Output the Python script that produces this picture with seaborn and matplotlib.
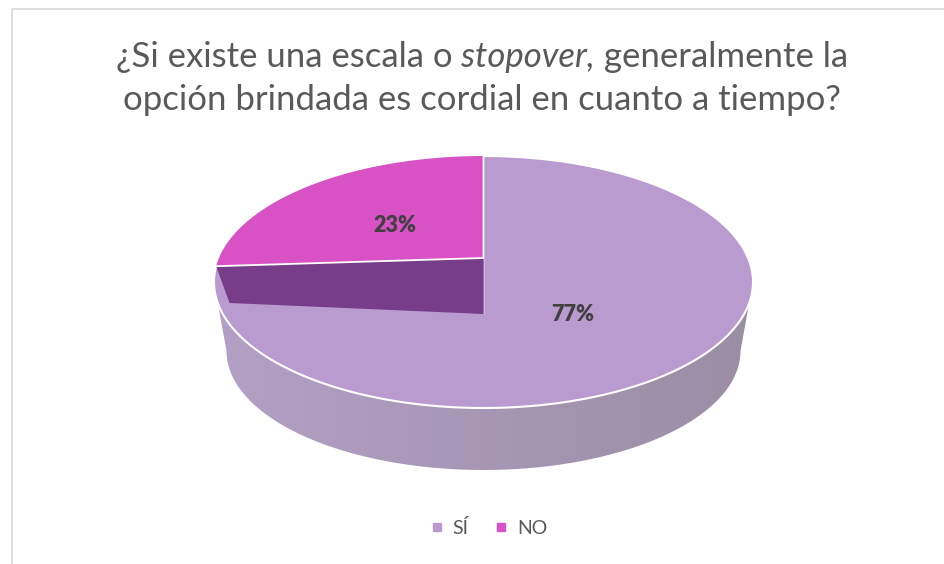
import numpy as np
import matplotlib
matplotlib.use("Agg")
import matplotlib.pyplot as plt
from matplotlib.patches import Polygon, Rectangle
from matplotlib.lines import Line2D
import seaborn as sns

# data
labels = ["SÍ", "NO"]
shares = [77, 23]
colors = ["#b99bcf", "#d852c6"]
cut_color = "#783d89"
title_lines = [
    [("¿Si existe una escala o", "normal"), (" stopover,", "italic"), (" generalmente la", "normal")],
    [("opción brindada es cordial en cuanto a tiempo?", "normal")],
]

sns.set_style("white")
plt.rcParams["font.family"] = ["Lato", "DejaVu Sans"]

W, H = 945, 564
fig = plt.figure(figsize=(W / 100, H / 100), dpi=100)
ax = fig.add_axes([0, 0, 1, 1])
ax.set_xlim(0, W)
ax.set_ylim(H, 0)
ax.axis("off")

# chart frame
ax.add_patch(Rectangle((12, 9), W, H, fill=False, ec="#d9d9d9", lw=1.2))

# pie geometry (pixel space)
cx, cy, a, b = 483.5, 282, 269.5, 126
cy_bot, a_bot, b_bot = 351, 257, 119
lift, drop = 24, 32


def rim(theta, r=1.0, rx=a, ry=b, y0=cy):
    t = np.radians(theta)
    return np.column_stack([cx + rx * r * np.cos(t), y0 - ry * r * np.sin(t)])


# slice boundaries, clockwise from 12 o'clock
total = sum(shares)
bounds = []
start = 90.0
for v in shares:
    end = start - 360 * v / total
    bounds.append((start, end))
    start = end

# side wall with a left-to-right shade
front = np.linspace(180, 360, 120)
wall_pts = np.vstack([rim(front), rim(front[::-1], rx=a_bot, ry=b_bot, y0=cy_bot)])
wall = Polygon(wall_pts, closed=True, fc="none", ec="none")
ax.add_patch(wall)
grad = np.linspace(0, 1, 256)[None, :]
cmap = matplotlib.colors.LinearSegmentedColormap.from_list("wall", ["#b3a0c6", "#9a8ea4"])
img = ax.imshow(grad, cmap=cmap, extent=(cx - a, cx + a, cy_bot + b_bot, cy),
                aspect="auto", zorder=1)
img.set_clip_path(wall)
ax.set_xlim(0, W)
ax.set_ylim(H, 0)

# top face of the big slice
full = np.linspace(0, 360, 361)
ax.fill(*rim(full).T, color=colors[0], ec="white", lw=1.5, zorder=2)

# small slice, lifted, and its cut face
t_end, t_start = bounds[1]
arc = np.linspace(t_start % 360, t_end % 360 + 360 * (t_end % 360 < t_start % 360), 80)
apex_no = np.array([[cx, cy - lift]])
apex_si = np.array([[cx, cy + drop]])
corner = rim(arc[-1:])
corner_low = rim(arc[-1:], r=0.95) + np.array([[0, drop + 4]])
ax.fill(*np.vstack([apex_no, rim(arc)]).T, color=colors[1], ec="none", zorder=3)
ax.fill(*np.vstack([apex_no, corner, corner_low, apex_si]).T, color=cut_color, ec="none", zorder=3)
ax.plot(*np.vstack([rim(arc[:1]), apex_no, corner]).T, color="white", lw=1.3, zorder=4)
ax.plot(*np.vstack([apex_no, apex_si]).T, color="#cdb8dc", lw=0.8, zorder=4)

# percentage labels
for (t0, t1), v in zip(bounds, shares):
    mid = (t0 + t1) / 2
    x, y = rim([mid], rx=a * 0.5, ry=b * 0.34)[0]
    if v == shares[1]:
        y -= lift
    ax.text(x, y, f"{v / total:.0%}", ha="center", va="center", fontsize=15.5,
            fontweight="heavy", color="#404040", zorder=5)

# title with an italic word
renderer = fig.canvas.get_renderer()
for row, y in zip(title_lines, [57, 100]):
    texts = [ax.text(0, y, s, fontstyle=st, fontsize=25, fontweight="normal",
                     color="#595959", va="center", ha="left") for s, st in row]
    widths = [t.get_window_extent(renderer).width for t in texts]
    x = 482 - sum(widths) / 2
    for t, w in zip(texts, widths):
        t.set_x(x)
        x += w

handles = [Line2D([], [], marker="s", ls="", color=c, markersize=5.5) for c in colors]
fig.legend(handles, labels, loc="center", bbox_to_anchor=(489 / W, 1 - 528 / H), ncol=2,
           frameon=False, handlelength=0.6, handletextpad=0.5, columnspacing=1.4,
           fontsize=14, labelcolor="#595959")

fig.savefig("out.png", dpi=100)
